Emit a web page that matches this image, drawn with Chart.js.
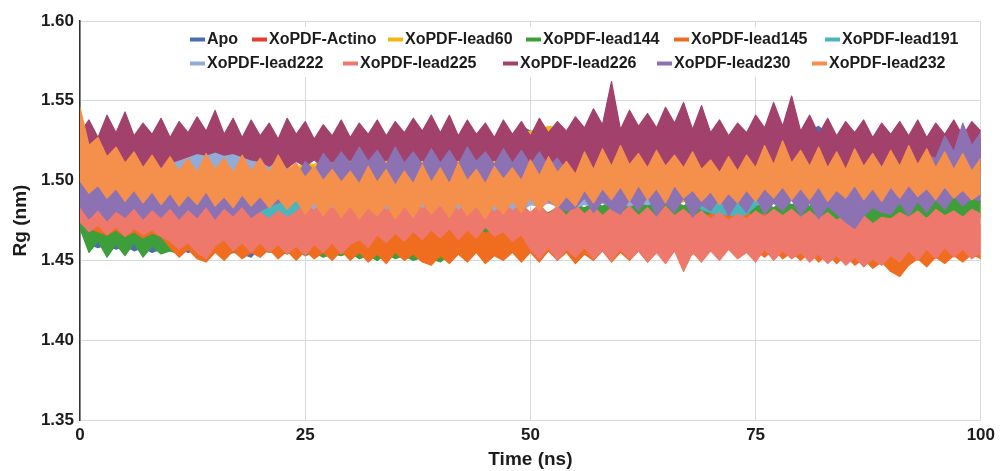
<!DOCTYPE html>
<html>
<head>
<meta charset="utf-8">
<script src="https://cdn.jsdelivr.net/npm/chart.js@4.4.1/dist/chart.umd.min.js"></script>
<style>
  html,body{margin:0;padding:0;background:#fff;}
  #wrap{width:1000px;height:471px;}
</style>
</head>
<body>
<div id="wrap"><canvas id="c" width="1000" height="471"></canvas></div>
<script>
// ---- Data: Rg (nm) envelope (upper / lower edge of each trace), read every 1 ns from 0 to 100 ns ----
const TIME_STEP_NS = 1;
const xTicks = [0, 25, 50, 75, 100];
const yTicks = [1.35, 1.40, 1.45, 1.50, 1.55, 1.60];

const seriesNames = ["Apo","XoPDF-Actino","XoPDF-lead60","XoPDF-lead144","XoPDF-lead145","XoPDF-lead191","XoPDF-lead222","XoPDF-lead225","XoPDF-lead226","XoPDF-lead230","XoPDF-lead232"];

const apoMax = [
1.490,1.476,1.474,1.476,1.473,1.475,1.472,1.474,1.471,1.473,
1.472,1.474,1.471,1.473,1.470,1.472,1.469,1.471,1.468,1.470,
1.474,1.477,1.481,1.483,1.488,1.490,1.495,1.496,1.501,1.503,
1.506,1.507,1.511,1.512,1.515,1.515,1.518,1.519,1.521,1.520,
1.523,1.522,1.524,1.523,1.525,1.523,1.526,1.524,1.529,1.534,
1.531,1.527,1.525,1.527,1.524,1.526,1.525,1.527,1.524,1.526,
1.525,1.527,1.524,1.526,1.525,1.527,1.524,1.526,1.525,1.527,
1.524,1.526,1.525,1.527,1.524,1.526,1.525,1.528,1.526,1.529,
1.528,1.531,1.534,1.529,1.527,1.525,1.527,1.524,1.526,1.525,
1.527,1.524,1.526,1.525,1.527,1.524,1.526,1.525,1.527,1.525,
1.526];
const apoMin = [
1.470,1.460,1.458,1.460,1.457,1.459,1.456,1.458,1.455,1.457,
1.456,1.458,1.455,1.457,1.454,1.456,1.453,1.455,1.454,1.452,
1.458,1.461,1.465,1.467,1.472,1.474,1.479,1.480,1.485,1.486,
1.490,1.491,1.495,1.496,1.499,1.499,1.502,1.502,1.505,1.504,
1.507,1.506,1.508,1.507,1.509,1.508,1.510,1.509,1.511,1.513,
1.512,1.510,1.509,1.511,1.508,1.510,1.509,1.511,1.508,1.510,
1.509,1.511,1.508,1.510,1.509,1.511,1.508,1.510,1.509,1.511,
1.508,1.510,1.509,1.511,1.508,1.510,1.509,1.511,1.510,1.512,
1.511,1.513,1.515,1.512,1.510,1.509,1.511,1.508,1.510,1.509,
1.511,1.508,1.510,1.509,1.511,1.508,1.510,1.509,1.511,1.509,
1.510];

const actinoMax = [
1.525,1.515,1.512,1.519,1.510,1.508,1.510,1.507,1.509,1.506,
1.508,1.506,1.509,1.507,1.508,1.505,1.507,1.506,1.508,1.505,
1.507,1.505,1.508,1.506,1.507,1.504,1.506,1.505,1.507,1.504,
1.506,1.504,1.507,1.505,1.506,1.503,1.505,1.504,1.506,1.504,
1.507,1.505,1.508,1.506,1.507,1.505,1.508,1.506,1.509,1.507,
1.508,1.506,1.509,1.507,1.510,1.508,1.509,1.507,1.510,1.508,
1.509,1.507,1.510,1.508,1.509,1.507,1.510,1.508,1.509,1.507,
1.508,1.506,1.509,1.507,1.508,1.506,1.509,1.507,1.509,1.508,
1.509,1.507,1.510,1.508,1.509,1.507,1.510,1.508,1.511,1.509,
1.508,1.506,1.509,1.507,1.508,1.506,1.508,1.506,1.507,1.505,
1.507];
const actinoMin = [
1.505,1.496,1.494,1.497,1.492,1.491,1.493,1.490,1.492,1.489,
1.491,1.489,1.492,1.490,1.491,1.488,1.490,1.489,1.491,1.488,
1.490,1.488,1.491,1.489,1.490,1.487,1.489,1.488,1.490,1.487,
1.489,1.487,1.490,1.488,1.489,1.486,1.488,1.487,1.489,1.487,
1.490,1.488,1.491,1.489,1.490,1.488,1.491,1.489,1.492,1.490,
1.491,1.489,1.492,1.490,1.493,1.491,1.492,1.490,1.493,1.491,
1.492,1.490,1.493,1.491,1.492,1.490,1.493,1.491,1.492,1.490,
1.491,1.489,1.492,1.490,1.491,1.489,1.492,1.490,1.492,1.491,
1.492,1.490,1.493,1.491,1.492,1.490,1.493,1.491,1.494,1.492,
1.491,1.489,1.492,1.490,1.491,1.489,1.491,1.489,1.490,1.488,
1.490];

const lead60Max = [
1.520,1.508,1.506,1.505,1.507,1.504,1.506,1.503,1.505,1.504,
1.505,1.503,1.504,1.502,1.504,1.503,1.505,1.502,1.504,1.503,
1.505,1.507,1.506,1.509,1.508,1.511,1.510,1.513,1.512,1.515,
1.514,1.517,1.516,1.519,1.518,1.521,1.520,1.523,1.522,1.524,
1.523,1.526,1.525,1.527,1.526,1.528,1.527,1.529,1.528,1.530,
1.531,1.532,1.534,1.533,1.529,1.525,1.519,1.513,1.507,1.501,
1.496,1.494,1.492,1.495,1.497,1.500,1.499,1.502,1.501,1.504,
1.503,1.506,1.505,1.507,1.506,1.509,1.508,1.510,1.509,1.511,
1.509,1.508,1.509,1.506,1.507,1.504,1.505,1.502,1.503,1.500,
1.501,1.498,1.499,1.496,1.497,1.494,1.495,1.493,1.494,1.492,
1.493];
const lead60Min = [
1.500,1.492,1.490,1.489,1.491,1.488,1.490,1.487,1.489,1.488,
1.489,1.487,1.488,1.486,1.488,1.487,1.489,1.486,1.488,1.487,
1.489,1.491,1.490,1.493,1.492,1.495,1.494,1.497,1.496,1.499,
1.498,1.501,1.500,1.503,1.502,1.505,1.504,1.507,1.506,1.508,
1.507,1.510,1.509,1.511,1.510,1.512,1.511,1.513,1.512,1.514,
1.515,1.516,1.518,1.517,1.513,1.509,1.503,1.497,1.491,1.485,
1.481,1.479,1.478,1.480,1.482,1.485,1.484,1.487,1.486,1.489,
1.488,1.491,1.490,1.492,1.491,1.494,1.493,1.495,1.494,1.496,
1.494,1.493,1.494,1.491,1.492,1.489,1.490,1.487,1.488,1.485,
1.486,1.483,1.484,1.481,1.482,1.480,1.481,1.479,1.480,1.478,
1.480];

const lead144Max = [
1.492,1.476,1.472,1.470,1.473,1.469,1.471,1.468,1.472,1.470,
1.471,1.468,1.470,1.467,1.469,1.466,1.468,1.465,1.467,1.466,
1.468,1.465,1.467,1.464,1.466,1.463,1.465,1.462,1.466,1.463,
1.465,1.462,1.466,1.463,1.465,1.462,1.464,1.466,1.463,1.467,
1.469,1.471,1.470,1.473,1.472,1.475,1.474,1.477,1.476,1.479,
1.478,1.481,1.480,1.483,1.482,1.485,1.483,1.486,1.484,1.487,
1.485,1.487,1.484,1.486,1.483,1.485,1.487,1.484,1.488,1.485,
1.486,1.484,1.487,1.485,1.488,1.484,1.486,1.483,1.487,1.485,
1.486,1.484,1.487,1.485,1.483,1.486,1.484,1.487,1.485,1.488,
1.486,1.489,1.487,1.488,1.486,1.489,1.487,1.490,1.488,1.489,
1.487];
const lead144Min = [
1.470,1.455,1.462,1.452,1.460,1.453,1.461,1.452,1.459,1.454,
1.456,1.454,1.457,1.455,1.458,1.456,1.458,1.455,1.457,1.456,
1.457,1.455,1.456,1.454,1.456,1.453,1.455,1.452,1.454,1.453,
1.455,1.451,1.453,1.450,1.454,1.451,1.453,1.450,1.452,1.451,
1.449,1.453,1.456,1.458,1.460,1.462,1.463,1.465,1.466,1.467,
1.468,1.469,1.470,1.471,1.472,1.473,1.472,1.474,1.473,1.475,
1.474,1.476,1.475,1.477,1.475,1.476,1.474,1.477,1.475,1.476,
1.475,1.477,1.474,1.476,1.475,1.477,1.474,1.476,1.473,1.475,
1.474,1.476,1.473,1.475,1.472,1.474,1.471,1.473,1.472,1.474,
1.475,1.477,1.476,1.478,1.477,1.479,1.477,1.478,1.476,1.478,
1.477];

const lead145Max = [
1.498,1.485,1.478,1.475,1.477,1.474,1.476,1.473,1.477,1.474,
1.476,1.473,1.475,1.472,1.476,1.474,1.477,1.473,1.475,1.472,
1.474,1.471,1.473,1.470,1.472,1.469,1.471,1.468,1.470,1.467,
1.470,1.468,1.471,1.469,1.472,1.470,1.473,1.469,1.471,1.468,
1.472,1.469,1.471,1.468,1.470,1.467,1.469,1.471,1.468,1.470,
1.469,1.471,1.468,1.470,1.467,1.469,1.472,1.468,1.470,1.467,
1.469,1.471,1.468,1.472,1.469,1.471,1.468,1.470,1.473,1.476,
1.479,1.481,1.478,1.482,1.480,1.477,1.479,1.476,1.478,1.474,
1.476,1.473,1.475,1.472,1.474,1.471,1.473,1.470,1.472,1.469,
1.468,1.466,1.469,1.471,1.468,1.472,1.470,1.473,1.471,1.474,
1.472];
const lead145Min = [
1.478,1.470,1.468,1.466,1.469,1.465,1.468,1.464,1.467,1.465,
1.458,1.452,1.457,1.451,1.449,1.455,1.450,1.456,1.451,1.455,
1.452,1.457,1.451,1.456,1.450,1.456,1.451,1.455,1.450,1.456,
1.450,1.455,1.449,1.454,1.448,1.455,1.450,1.454,1.449,1.447,
1.453,1.448,1.454,1.449,1.455,1.448,1.453,1.450,1.455,1.449,
1.455,1.449,1.456,1.450,1.455,1.448,1.454,1.450,1.456,1.449,
1.455,1.450,1.456,1.449,1.455,1.451,1.456,1.450,1.454,1.457,
1.461,1.465,1.460,1.464,1.461,1.456,1.452,1.457,1.451,1.455,
1.450,1.455,1.449,1.454,1.448,1.453,1.447,1.451,1.445,1.449,
1.443,1.440,1.447,1.451,1.446,1.452,1.448,1.453,1.449,1.454,
1.451];

const lead191Max = [
1.505,1.492,1.490,1.489,1.491,1.488,1.490,1.487,1.489,1.488,
1.490,1.488,1.491,1.489,1.490,1.488,1.491,1.489,1.490,1.488,
1.489,1.491,1.488,1.490,1.489,1.493,1.497,1.500,1.502,1.504,
1.505,1.503,1.506,1.504,1.507,1.505,1.508,1.506,1.505,1.507,
1.506,1.508,1.505,1.507,1.506,1.508,1.507,1.509,1.508,1.510,
1.509,1.511,1.510,1.512,1.511,1.513,1.512,1.514,1.512,1.513,
1.514,1.512,1.515,1.513,1.518,1.512,1.508,1.504,1.500,1.497,
1.495,1.493,1.494,1.492,1.493,1.497,1.502,1.506,1.510,1.513,
1.514,1.510,1.507,1.505,1.504,1.503,1.504,1.502,1.503,1.504,
1.503,1.504,1.502,1.503,1.504,1.502,1.503,1.504,1.502,1.503,
1.503];
const lead191Min = [
1.485,1.478,1.476,1.475,1.477,1.474,1.476,1.474,1.476,1.475,
1.476,1.474,1.477,1.475,1.476,1.474,1.477,1.475,1.476,1.474,
1.475,1.477,1.474,1.476,1.475,1.478,1.482,1.485,1.487,1.489,
1.490,1.488,1.491,1.489,1.492,1.490,1.493,1.491,1.490,1.492,
1.491,1.493,1.490,1.492,1.491,1.493,1.492,1.494,1.493,1.495,
1.494,1.496,1.495,1.497,1.496,1.498,1.497,1.499,1.497,1.498,
1.499,1.497,1.500,1.498,1.502,1.497,1.493,1.489,1.485,1.482,
1.480,1.478,1.479,1.477,1.479,1.484,1.489,1.492,1.495,1.498,
1.499,1.497,1.494,1.492,1.491,1.490,1.491,1.489,1.490,1.491,
1.490,1.491,1.489,1.490,1.491,1.489,1.490,1.491,1.489,1.490,
1.490];

const lead222Max = [
1.530,1.515,1.513,1.512,1.511,1.513,1.512,1.511,1.513,1.512,
1.514,1.516,1.518,1.520,1.521,1.519,1.520,1.518,1.519,1.516,
1.517,1.514,1.512,1.508,1.505,1.502,1.500,1.498,1.501,1.499,
1.497,1.500,1.498,1.501,1.499,1.497,1.500,1.498,1.501,1.499,
1.498,1.500,1.502,1.504,1.506,1.508,1.510,1.509,1.511,1.510,
1.512,1.511,1.513,1.510,1.514,1.512,1.515,1.513,1.511,1.514,
1.512,1.510,1.513,1.509,1.511,1.508,1.505,1.502,1.500,1.498,
1.497,1.499,1.496,1.498,1.497,1.499,1.496,1.498,1.497,1.499,
1.498,1.496,1.499,1.497,1.498,1.496,1.499,1.497,1.498,1.500,
1.499,1.501,1.500,1.502,1.501,1.503,1.500,1.502,1.501,1.503,
1.501];
const lead222Min = [
1.505,1.497,1.494,1.493,1.491,1.494,1.492,1.490,1.493,1.491,
1.499,1.500,1.502,1.503,1.505,1.502,1.504,1.501,1.503,1.500,
1.502,1.499,1.497,1.493,1.490,1.481,1.479,1.480,1.478,1.481,
1.479,1.480,1.478,1.481,1.479,1.477,1.480,1.478,1.481,1.479,
1.478,1.480,1.479,1.481,1.480,1.479,1.481,1.480,1.482,1.481,
1.485,1.484,1.486,1.484,1.485,1.483,1.485,1.484,1.486,1.484,
1.485,1.484,1.486,1.485,1.486,1.487,1.488,1.489,1.490,1.488,
1.487,1.489,1.486,1.488,1.487,1.489,1.486,1.488,1.487,1.489,
1.488,1.486,1.489,1.487,1.488,1.486,1.489,1.487,1.488,1.490,
1.489,1.491,1.490,1.492,1.491,1.493,1.490,1.492,1.491,1.493,
1.491];

const lead225Max = [
1.488,1.483,1.487,1.481,1.486,1.480,1.485,1.481,1.487,1.482,
1.486,1.481,1.487,1.482,1.488,1.483,1.487,1.481,1.486,1.482,
1.480,1.476,1.481,1.477,1.480,1.486,1.481,1.488,1.482,1.487,
1.483,1.488,1.482,1.487,1.481,1.488,1.483,1.489,1.482,1.487,
1.483,1.488,1.481,1.487,1.482,1.486,1.480,1.486,1.481,1.485,
1.480,1.485,1.479,1.484,1.478,1.485,1.479,1.484,1.478,1.483,
1.479,1.484,1.478,1.483,1.477,1.484,1.478,1.482,1.477,1.481,
1.476,1.480,1.475,1.479,1.476,1.481,1.477,1.482,1.478,1.482,
1.477,1.481,1.476,1.480,1.475,1.479,1.474,1.478,1.473,1.477,
1.476,1.480,1.477,1.481,1.476,1.482,1.478,1.481,1.477,1.482,
1.479];
const lead225Min = [
1.474,1.468,1.472,1.466,1.471,1.465,1.470,1.466,1.469,1.465,
1.462,1.457,1.461,1.455,1.451,1.459,1.463,1.456,1.461,1.455,
1.461,1.455,1.460,1.454,1.459,1.453,1.460,1.455,1.461,1.454,
1.460,1.463,1.458,1.466,1.461,1.467,1.462,1.468,1.463,1.469,
1.464,1.470,1.463,1.469,1.464,1.471,1.465,1.468,1.462,1.466,
1.457,1.451,1.458,1.450,1.457,1.452,1.458,1.451,1.456,1.450,
1.457,1.451,1.456,1.449,1.455,1.448,1.456,1.443,1.455,1.449,
1.456,1.450,1.457,1.451,1.455,1.449,1.457,1.450,1.456,1.451,
1.455,1.449,1.454,1.448,1.453,1.447,1.452,1.446,1.451,1.447,
1.453,1.449,1.456,1.450,1.457,1.451,1.458,1.452,1.457,1.451,
1.455];

const lead226Max = [
1.530,1.538,1.527,1.541,1.530,1.543,1.528,1.536,1.529,1.539,
1.527,1.537,1.530,1.540,1.531,1.544,1.529,1.539,1.527,1.538,
1.528,1.536,1.526,1.539,1.529,1.537,1.526,1.535,1.528,1.538,
1.527,1.536,1.529,1.538,1.528,1.537,1.530,1.539,1.531,1.541,
1.530,1.541,1.528,1.538,1.529,1.536,1.527,1.538,1.529,1.537,
1.528,1.539,1.530,1.537,1.531,1.540,1.533,1.545,1.535,1.562,
1.532,1.544,1.534,1.542,1.533,1.546,1.536,1.549,1.532,1.547,
1.530,1.538,1.528,1.536,1.530,1.541,1.533,1.549,1.534,1.553,
1.531,1.541,1.529,1.539,1.528,1.537,1.530,1.538,1.527,1.536,
1.529,1.537,1.528,1.538,1.527,1.536,1.529,1.538,1.528,1.537,
1.531];
const lead226Min = [
1.512,1.508,1.513,1.509,1.512,1.508,1.513,1.509,1.511,1.508,
1.511,1.513,1.515,1.517,1.516,1.518,1.516,1.517,1.515,1.513,
1.512,1.509,1.513,1.508,1.512,1.509,1.513,1.508,1.512,1.509,
1.513,1.508,1.512,1.509,1.513,1.508,1.512,1.509,1.513,1.508,
1.512,1.509,1.513,1.508,1.512,1.509,1.513,1.508,1.512,1.509,
1.508,1.503,1.507,1.504,1.508,1.503,1.507,1.504,1.508,1.503,
1.507,1.504,1.508,1.503,1.507,1.504,1.508,1.503,1.507,1.504,
1.508,1.503,1.507,1.504,1.508,1.503,1.507,1.504,1.508,1.503,
1.507,1.504,1.508,1.503,1.507,1.504,1.508,1.503,1.507,1.504,
1.508,1.503,1.507,1.504,1.508,1.503,1.507,1.504,1.508,1.503,
1.507];

const lead230Max = [
1.500,1.498,1.496,1.499,1.494,1.497,1.493,1.496,1.492,1.495,
1.497,1.493,1.496,1.492,1.498,1.494,1.496,1.493,1.497,1.495,
1.499,1.497,1.501,1.506,1.502,1.512,1.506,1.517,1.510,1.518,
1.511,1.521,1.512,1.519,1.510,1.521,1.511,1.518,1.510,1.520,
1.511,1.519,1.510,1.521,1.512,1.518,1.510,1.520,1.511,1.519,
1.510,1.518,1.509,1.514,1.506,1.503,1.500,1.502,1.499,1.501,
1.503,1.500,1.502,1.499,1.504,1.501,1.498,1.502,1.500,1.503,
1.501,1.499,1.502,1.500,1.503,1.504,1.501,1.503,1.500,1.502,
1.504,1.501,1.503,1.499,1.502,1.500,1.498,1.501,1.499,1.503,
1.505,1.507,1.511,1.509,1.516,1.514,1.528,1.518,1.536,1.522,
1.530];
const lead230Min = [
1.484,1.476,1.482,1.475,1.481,1.477,1.483,1.476,1.482,1.477,
1.483,1.476,1.482,1.477,1.484,1.476,1.483,1.478,1.484,1.477,
1.481,1.484,1.486,1.489,1.492,1.494,1.496,1.498,1.497,1.499,
1.496,1.498,1.495,1.499,1.497,1.494,1.498,1.496,1.499,1.495,
1.497,1.494,1.498,1.495,1.497,1.493,1.496,1.494,1.497,1.495,
1.493,1.490,1.487,1.484,1.481,1.483,1.489,1.480,1.487,1.482,
1.479,1.488,1.481,1.490,1.478,1.486,1.480,1.489,1.477,1.485,
1.481,1.489,1.478,1.487,1.480,1.490,1.479,1.486,1.481,1.488,
1.478,1.486,1.476,1.484,1.479,1.474,1.470,1.478,1.483,1.480,
1.479,1.486,1.478,1.487,1.480,1.488,1.482,1.490,1.484,1.489,
1.487];

const lead232Max = [
1.546,1.522,1.527,1.515,1.521,1.511,1.518,1.508,1.516,1.507,
1.515,1.506,1.514,1.505,1.517,1.507,1.514,1.505,1.516,1.506,
1.514,1.505,1.516,1.506,1.511,1.502,1.509,1.500,1.507,1.499,
1.506,1.498,1.509,1.499,1.507,1.497,1.506,1.498,1.510,1.499,
1.508,1.498,1.511,1.500,1.507,1.498,1.509,1.501,1.508,1.500,
1.513,1.503,1.515,1.505,1.512,1.504,1.518,1.507,1.520,1.509,
1.522,1.510,1.517,1.508,1.519,1.509,1.516,1.508,1.518,1.507,
1.513,1.505,1.515,1.506,1.516,1.508,1.522,1.510,1.525,1.511,
1.519,1.509,1.521,1.508,1.518,1.507,1.520,1.509,1.517,1.508,
1.519,1.509,1.522,1.510,1.520,1.508,1.518,1.507,1.517,1.506,
1.514];
const lead232Min = [
1.500,1.492,1.497,1.489,1.495,1.487,1.494,1.486,1.493,1.485,
1.492,1.484,1.491,1.485,1.493,1.484,1.490,1.483,1.491,1.484,
1.490,1.483,1.489,1.482,1.488,1.479,1.486,1.478,1.485,1.477,
1.484,1.476,1.483,1.478,1.485,1.476,1.484,1.477,1.486,1.479,
1.485,1.477,1.486,1.478,1.484,1.476,1.485,1.479,1.487,1.480,
1.489,1.481,1.488,1.483,1.490,1.484,1.494,1.486,1.495,1.488,
1.496,1.487,1.497,1.488,1.495,1.486,1.497,1.489,1.494,1.487,
1.493,1.485,1.492,1.486,1.494,1.487,1.495,1.489,1.496,1.488,
1.495,1.488,1.496,1.487,1.494,1.489,1.497,1.488,1.495,1.487,
1.496,1.489,1.497,1.490,1.495,1.488,1.496,1.489,1.494,1.488,
1.492];

const seriesMax = [apoMax, actinoMax, lead60Max, lead144Max, lead145Max, lead191Max, lead222Max, lead225Max, lead226Max, lead230Max, lead232Max];
const seriesMin = [apoMin, actinoMin, lead60Min, lead144Min, lead145Min, lead191Min, lead222Min, lead225Min, lead226Min, lead230Min, lead232Min];
const seriesColors = ["#4d6cb3","#ea3a2e","#f7b514","#3d9e3a","#f06c1f","#4cb5bb","#92acd9","#ee786c","#a2416b","#8c72b3","#f5904c"];

const FONT = "'Liberation Sans', Arial, Helvetica, sans-serif";
const TEXT_COLOR = "#1c1c1c";

const toPoints = (arr) => arr.map((v, i) => ({ x: i * TIME_STEP_NS, y: v }));

// each trace = its upper edge filled down to its lower edge; later traces are drawn on top
const datasets = [];
seriesNames.forEach((name, k) => {
  const ord = seriesNames.length - k;
  datasets.push({
    label: name,
    data: toPoints(seriesMax[k]),
    borderColor: seriesColors[k],
    backgroundColor: seriesColors[k],
    borderWidth: 1.2,
    borderJoinStyle: 'round',
    pointRadius: 0,
    tension: 0,
    fill: '+1',
    order: ord
  });
  datasets.push({
    label: name + ' (lower edge)',
    data: toPoints(seriesMin[k]),
    borderColor: seriesColors[k],
    backgroundColor: seriesColors[k],
    borderWidth: 1.2,
    borderJoinStyle: 'round',
    pointRadius: 0,
    tension: 0,
    fill: false,
    order: ord
  });
});

// Legend drawn inside the plot area (two rows), like the reference
const legendLayout = {
  rows: [39.5, 63.5],
  items: [
    { row: 0, x: 190 }, { row: 0, x: 252 }, { row: 0, x: 388 }, { row: 0, x: 526 }, { row: 0, x: 674 }, { row: 0, x: 825 },
    { row: 1, x: 190 }, { row: 1, x: 343 }, { row: 1, x: 503 }, { row: 1, x: 657 }, { row: 1, x: 812 }
  ],
  markerW: 15, markerH: 4, gap: 2,
  box: { x1: 183, y1: 27, x2: 978, y2: 77 }
};

const insideLegend = {
  id: 'insideLegend',
  afterDatasetsDraw(chart) {
    const ctx = chart.ctx;
    const L = legendLayout;
    ctx.save();
    ctx.fillStyle = '#ffffff';
    ctx.fillRect(L.box.x1, L.box.y1, L.box.x2 - L.box.x1, L.box.y2 - L.box.y1);
    ctx.font = "bold 16px " + FONT;
    ctx.textBaseline = 'middle';
    ctx.textAlign = 'left';
    seriesNames.forEach((name, k) => {
      const it = L.items[k];
      const y = L.rows[it.row];
      ctx.fillStyle = seriesColors[k];
      ctx.fillRect(it.x, y - L.markerH / 2, L.markerW, L.markerH);
      ctx.fillStyle = TEXT_COLOR;
      ctx.fillText(name, it.x + L.markerW + L.gap, y + 0.5);
    });
    ctx.restore();
  }
};

new Chart(document.getElementById('c'), {
  type: 'line',
  data: { datasets },
  plugins: [insideLegend],
  options: {
    responsive: false,
    animation: false,
    devicePixelRatio: 1,
    layout: { padding: { top: 21, right: 17, left: 0, bottom: 0 } },
    plugins: {
      legend: { display: false },
      tooltip: { enabled: false },
      filler: { propagate: false }
    },
    scales: {
      x: {
        type: 'linear',
        min: 0, max: 100,
        afterBuildTicks: (s) => { s.ticks = xTicks.map(v => ({ value: v })); },
        afterFit: (s) => { s.height = 51; },
        ticks: {
          font: { family: FONT, size: 17, weight: 'bold' },
          color: TEXT_COLOR,
          padding: 5,
          maxRotation: 0,
          callback: (v) => String(v)
        },
        grid: { color: '#d9d9d9', lineWidth: 1, drawTicks: false },
        border: { color: '#d9d9d9', width: 1 },
        title: {
          display: true,
          text: 'Time (ns)',
          font: { family: FONT, size: 19, weight: 'bold' },
          color: TEXT_COLOR,
          padding: { top: 0, bottom: 0 }
        }
      },
      y: {
        type: 'linear',
        min: 1.35, max: 1.60,
        afterBuildTicks: (s) => { s.ticks = yTicks.map(v => ({ value: v })); },
        afterFit: (s) => { s.width = 80; },
        ticks: {
          font: { family: FONT, size: 17, weight: 'bold' },
          color: TEXT_COLOR,
          padding: 6,
          callback: (v) => Number(v).toFixed(2)
        },
        grid: { color: '#d9d9d9', lineWidth: 1, drawTicks: false },
        border: { color: '#333333', width: 1.5 },
        title: {
          display: true,
          text: 'Rg (nm)',
          font: { family: FONT, size: 19, weight: 'bold' },
          color: TEXT_COLOR,
          padding: { top: 9, bottom: 0 }
        }
      }
    }
  }
});
</script>
</body>
</html>
